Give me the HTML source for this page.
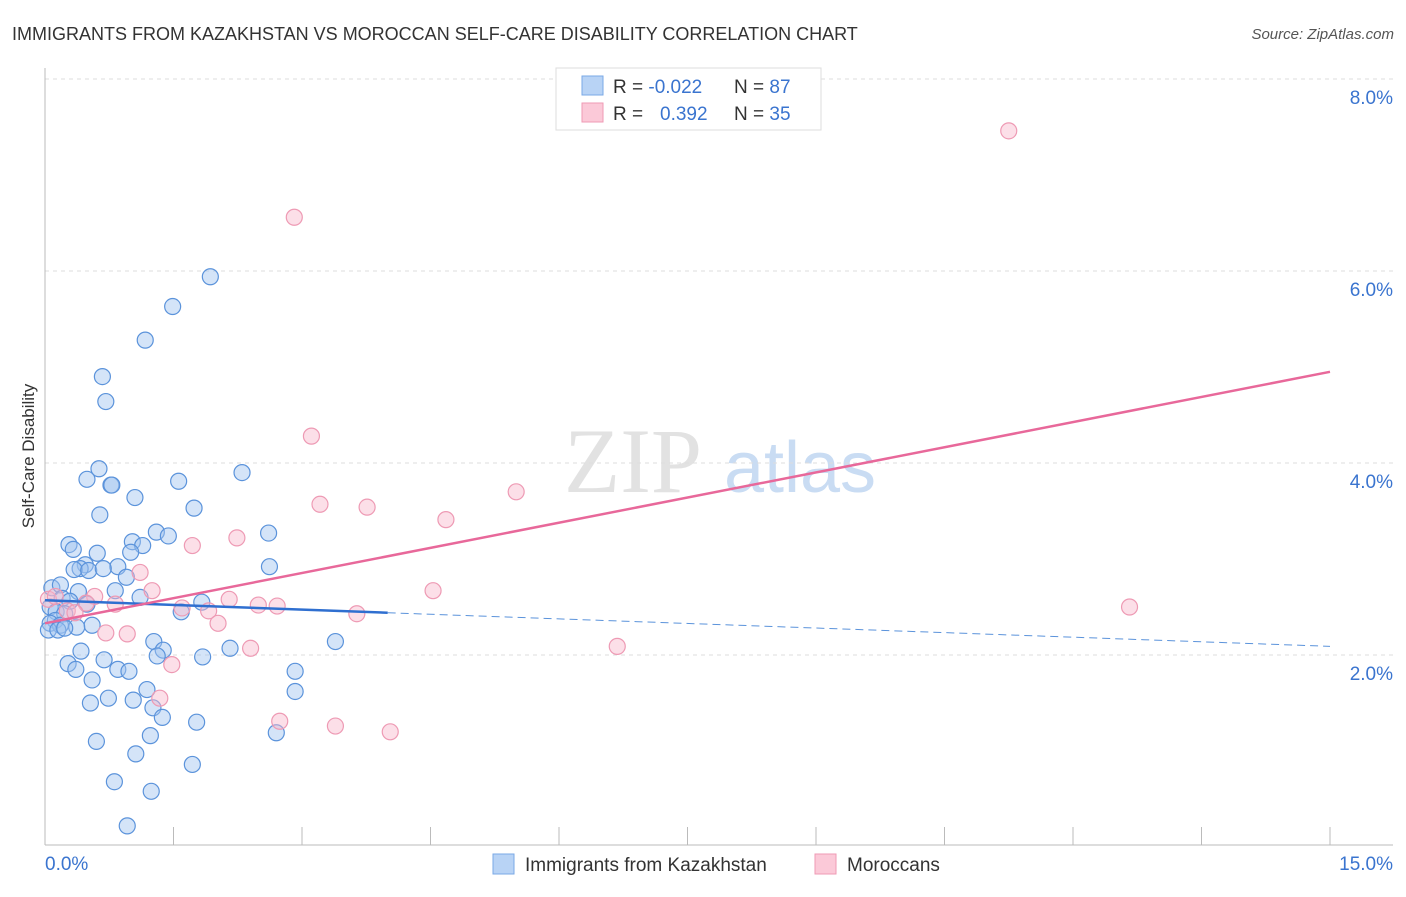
<!DOCTYPE html>
<html><head><meta charset="utf-8"><style>
body{margin:0;background:#fff;font-family:"Liberation Sans",sans-serif}
</style></head><body>
<svg width="1406" height="892" xmlns="http://www.w3.org/2000/svg" id="svg">
<text x="12" y="40" font-size="18" fill="#333">IMMIGRANTS FROM KAZAKHSTAN VS MOROCCAN SELF-CARE DISABILITY CORRELATION CHART</text>
<text x="1394" y="39" font-size="15" fill="#555" font-style="italic" text-anchor="end">Source: ZipAtlas.com</text>
<text x="633" y="492" font-size="92" fill="#e2e2e2" font-family="Liberation Serif" text-anchor="middle">ZIP</text>
<text x="800" y="492" font-size="72" fill="#c9dcf3" text-anchor="middle">atlas</text>
<text transform="translate(34,456) rotate(-90)" font-size="17" fill="#333" text-anchor="middle">Self-Care Disability</text>
<g id="grid"></g><g id="pts"></g><g id="lines"></g>
<g>
<rect x="556" y="68" width="265" height="62" fill="#fff" stroke="#ddd"/>
<rect x="582" y="76" width="21" height="19" fill="#b8d3f5" stroke="#7aa8e6"/>
<rect x="582" y="103" width="21" height="19" fill="#fbc9d8" stroke="#ef9ab4"/>
<text x="613" y="93" font-size="19" fill="#333">R = <tspan fill="#3a74cf">-0.022</tspan><tspan x="734">N = </tspan><tspan fill="#3a74cf">87</tspan></text>
<text x="613" y="120" font-size="19" fill="#333">R = <tspan x="660" fill="#3a74cf">0.392</tspan><tspan x="734">N = </tspan><tspan fill="#3a74cf">35</tspan></text>
</g>
<g>
<rect x="493" y="854" width="21" height="20" fill="#b8d3f5" stroke="#7aa8e6"/>
<text x="525" y="871" font-size="19" fill="#333">Immigrants from Kazakhstan</text>
<rect x="815" y="854" width="21" height="20" fill="#fbc9d8" stroke="#ef9ab4"/>
<text x="847" y="871" font-size="19" fill="#333">Moroccans</text>
</g>
</svg>
<script>
const xTicks=[0,1.5,3,4.5,6,7.5,9,10.5,12,13.5,15];
const yTicks=[2,4,6,8];
const yTickLabels=["2.0%","4.0%","6.0%","8.0%"];
const blueX=[1.93,1.49,1.17,0.67,0.71,0.63,0.49,0.77,0.78,1.56,2.3,1.05,1.74,0.64,1.30,2.61,0.28,1.02,1.14,1.44,0.33,0.61,1.0,0.47,0.41,0.34,0.51,0.85,0.68,0.95,2.62,0.08,0.18,0.39,0.82,1.11,0.20,0.29,0.49,0.06,1.83,1.59,0.13,0.23,0.12,0.06,0.18,0.55,0.37,0.04,0.15,0.23,1.27,3.39,1.38,1.31,0.42,2.16,1.84,0.69,0.27,0.36,0.85,0.98,2.92,0.55,1.19,2.92,0.74,0.53,1.03,1.26,1.37,1.77,2.70,1.23,0.60,1.06,1.72,0.81,1.24,0.96];
const blueY=[5.94,5.63,5.28,4.90,4.64,3.94,3.83,3.77,3.77,3.81,3.90,3.64,3.53,3.46,3.28,3.27,3.15,3.18,3.14,3.24,3.10,3.06,3.07,2.94,2.90,2.89,2.88,2.92,2.90,2.81,2.92,2.70,2.73,2.66,2.67,2.60,2.59,2.56,2.53,2.50,2.55,2.45,2.45,2.43,2.36,2.33,2.31,2.31,2.29,2.26,2.26,2.28,2.14,2.14,2.05,1.99,2.04,2.07,1.98,1.95,1.91,1.85,1.85,1.83,1.83,1.74,1.64,1.62,1.55,1.50,1.53,1.45,1.35,1.30,1.19,1.16,1.10,0.97,0.86,0.68,0.58,0.22];
const pinkX=[11.25,2.91,3.11,5.50,3.21,3.76,4.68,2.24,1.72,1.11,1.25,4.53,2.15,0.04,0.12,0.58,0.48,0.82,2.49,2.71,1.91,1.60,0.26,0.35,3.64,12.66,2.02,0.71,0.96,2.40,6.68,1.48,1.34,2.74,3.39,4.03];
const pinkY=[7.46,6.56,4.28,3.70,3.57,3.54,3.41,3.22,3.14,2.86,2.67,2.67,2.58,2.58,2.61,2.61,2.54,2.53,2.52,2.51,2.46,2.49,2.46,2.44,2.43,2.50,2.33,2.23,2.22,2.07,2.09,1.90,1.55,1.31,1.26,1.20];
const blueTrend=[[0,2.57],[4.0,2.44],[15,2.09]];
const pinkTrend=[[0,2.33],[15,4.95]];
const NS="http://www.w3.org/2000/svg";
const X=v=>45+v/15*1285, Y=v=>847-v*96;
function mk(t,a,p){const e=document.createElementNS(NS,t);for(const k in a)e.setAttribute(k,a[k]);p.appendChild(e);return e;}
const grid=document.getElementById('grid');
yTicks.forEach((t,i)=>{
 const l=mk('line',{x1:45,x2:1393,y1:Y(t),y2:Y(t),stroke:'#ddd','stroke-dasharray':'4,4'},grid);
 
 
 const tx=mk('text',{x:1393,y:Y(t)+25,'font-size':19,fill:'#3a74cf','text-anchor':'end'},grid);
 tx.textContent=yTickLabels[i];
 
 
});
const ax=mk('line',{x1:45,x2:1393,y1:845,y2:845,stroke:'#bbb'},grid);


const ay=mk('line',{x1:45,x2:45,y1:68,y2:845,stroke:'#bbb'},grid);


xTicks.forEach(t=>{const l=mk('line',{x1:X(t),x2:X(t),y1:827,y2:845,stroke:'#bbb'},grid);
 
 });
const x0=mk('text',{x:45,y:870,'font-size':19,fill:'#3a74cf'},grid);x0.textContent='0.0%';


const x1=mk('text',{x:1393,y:870,'font-size':19,fill:'#3a74cf','text-anchor':'end'},grid);x1.textContent='15.0%';


const pts=document.getElementById('pts');
blueX.forEach((v,i)=>{const c=mk('circle',{cx:X(v),cy:Y(blueY[i]),r:8,fill:'rgba(160,196,240,0.45)',stroke:'#5b93db','stroke-width':1.2},pts);
 
 });
pinkX.forEach((v,i)=>{const c=mk('circle',{cx:X(v),cy:Y(pinkY[i]),r:8,fill:'rgba(248,184,204,0.45)',stroke:'#ee9ab4','stroke-width':1.2},pts);
 
 });
const lines=document.getElementById('lines');
const b1=mk('line',{x1:X(blueTrend[0][0]),y1:Y(blueTrend[0][1]),x2:X(blueTrend[1][0]),y2:Y(blueTrend[1][1]),stroke:'#2f6fd0','stroke-width':2.5},lines);


const b2=mk('line',{x1:X(blueTrend[1][0]),y1:Y(blueTrend[1][1]),x2:X(blueTrend[2][0]),y2:Y(blueTrend[2][1]),stroke:'#5b93db','stroke-width':1,'stroke-dasharray':'8,5'},lines);


const p1=mk('line',{x1:X(pinkTrend[0][0]),y1:Y(pinkTrend[0][1]),x2:X(pinkTrend[1][0]),y2:Y(pinkTrend[1][1]),stroke:'#e8689a','stroke-width':2.5},lines);


</script>
</body></html>
